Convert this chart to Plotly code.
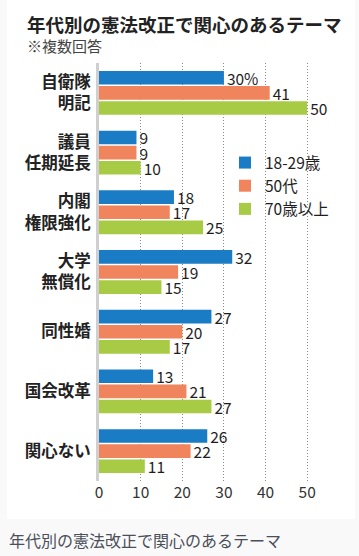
import plotly.graph_objects as go

# ---- data ----
categories = ["自衛隊<br>明記", "議員<br>任期延長", "内閣<br>権限強化", "大学<br>無償化", "同性婚", "国会改革", "関心ない"]
series_names = ["18-29歳", "50代", "70歳以上"]
v_18_29 = [30, 9, 18, 32, 27, 13, 26]
v_50s = [41, 9, 17, 19, 20, 21, 22]
v_70plus = [50, 10, 25, 15, 17, 27, 11]
x_ticks = [0, 10, 20, 30, 40, 50]

title_text = "年代別の憲法改正で関心のあるテーマ"
subtitle_text = "※複数回答"
caption_text = "年代別の憲法改正で関心のあるテーマ"

colors = ["#1b7cc6", "#f0855d", "#a8cb45"]
FONT = "Noto Sans CJK JP"

W, H = 359, 556
L, R, T, B = 99, 31, 63, 75
PW, PH = W - L - R, H - T - B


def px2x(px):
    return (px - L) / PW


def py2y(py):
    return (H - B - py) / PH


def labels(vals, first_pct=False):
    out = [str(v) for v in vals]
    if first_pct:
        out[0] = out[0] + "%"
    return out


fig = go.Figure()
for name, vals, col, pct in [
    (series_names[0], v_18_29, colors[0], True),
    (series_names[1], v_50s, colors[1], False),
    (series_names[2], v_70plus, colors[2], False),
]:
    fig.add_trace(go.Bar(
        name=name, y=categories, x=vals, orientation="h",
        marker=dict(color=col, line=dict(width=0)),
        text=labels(vals, pct), textposition="outside",
        textfont=dict(family=FONT, size=15.5, color="#1e1e1e"),
        constraintext="none", cliponaxis=False,
    ))

fig.update_layout(
    width=W, height=H,
    margin=dict(l=L, r=R, t=T, b=B, autoexpand=False),
    paper_bgcolor="#f9f9f9", plot_bgcolor="rgba(0,0,0,0)",
    barmode="group", bargap=0.24, bargroupgap=0.1,
    font=dict(family=FONT, color="#222"),
    legend=dict(
        x=px2x(225), y=py2y(146), xanchor="left", yanchor="top",
        bgcolor="rgba(0,0,0,0)", font=dict(family=FONT, size=15.5, color="#1e1e1e"),
        itemwidth=30, tracegroupgap=0,
    ),
    xaxis=dict(
        range=[0, 55], tickvals=x_ticks, showgrid=True, gridcolor="#8a8a8a",
        griddash="1px,2px", gridwidth=1, zeroline=False, showline=False,
        automargin=False,
        tickfont=dict(family=FONT, size=15.5, color="#333"), fixedrange=True,
    ),
    yaxis=dict(
        categoryorder="array", categoryarray=categories, autorange="reversed",
        showline=True, linecolor="#cfcfcf", linewidth=3, showgrid=False,
        ticks="", ticklabelstandoff=2, automargin=False,
        tickfont=dict(family=FONT, size=16.5, color="#222", weight="bold"),
    ),
)

# white panel behind chart, light caption band
fig.add_shape(type="rect", xref="paper", yref="paper",
              x0=px2x(7), x1=px2x(355), y0=py2y(519), y1=py2y(-5),
              fillcolor="white", line=dict(width=0), layer="below")

fig.add_annotation(text="<b>" + title_text + "</b>", xref="paper", yref="paper",
                   x=px2x(25), y=py2y(24), xanchor="left", yanchor="middle",
                   showarrow=False, font=dict(family=FONT, size=18.5, color="#222"))
fig.add_annotation(text=subtitle_text, xref="paper", yref="paper",
                   x=px2x(25), y=py2y(46), xanchor="left", yanchor="middle",
                   showarrow=False, font=dict(family=FONT, size=15, color="#444"))
fig.add_annotation(text=caption_text, xref="paper", yref="paper",
                   x=px2x(7), y=py2y(540), xanchor="left", yanchor="middle",
                   showarrow=False, font=dict(family=FONT, size=16, color="#4a4f5a"))

fig.write_html("out.html", config={"displayModeBar": False},
               post_script="document.body.style.margin='0';document.body.style.overflow='hidden';")
